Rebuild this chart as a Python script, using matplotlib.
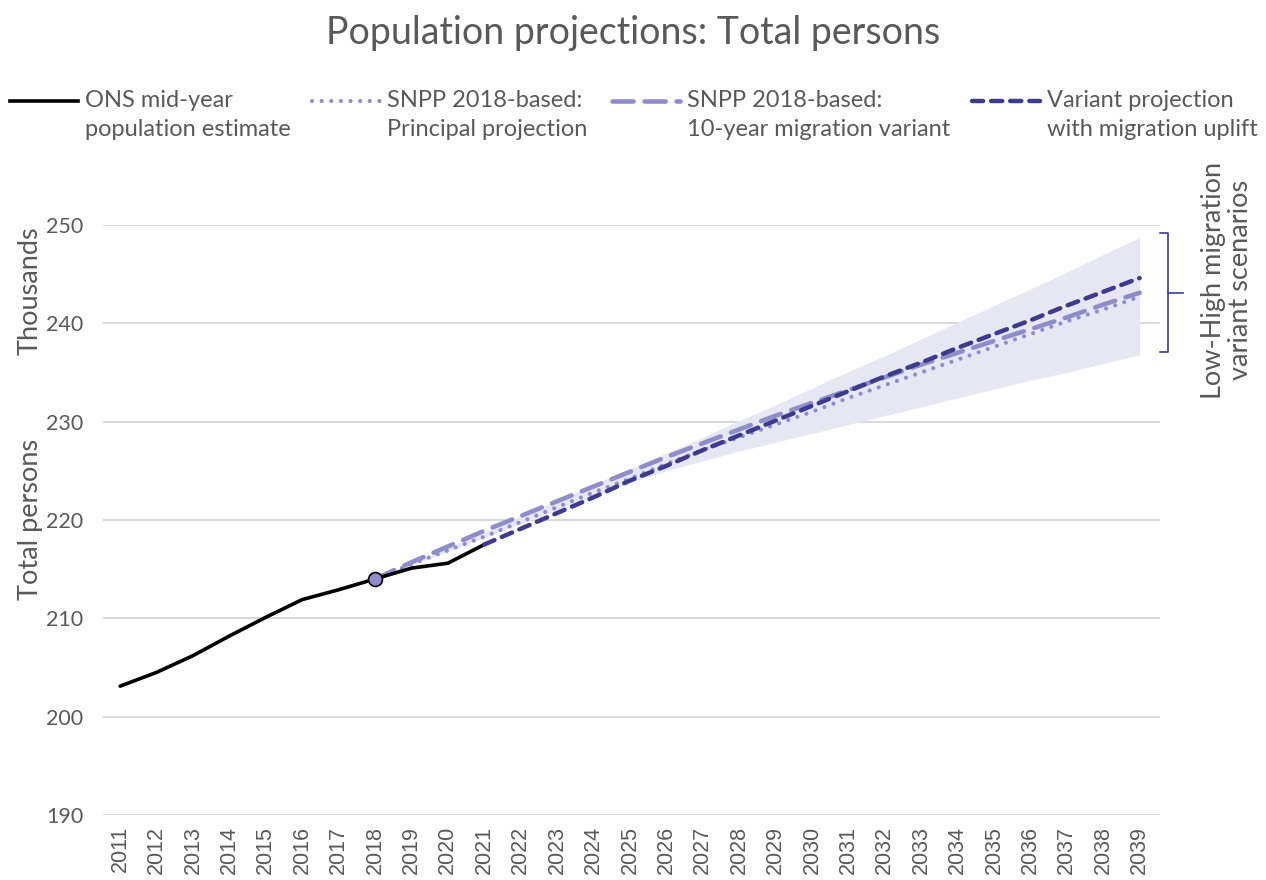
import matplotlib
matplotlib.use("Agg")
import matplotlib.pyplot as plt
from matplotlib.lines import Line2D

years = list(range(2011, 2040))
ons_years = list(range(2011, 2022))
ons = [203.1, 204.5, 206.2, 208.2, 210.1, 211.9, 212.9, 214.0, 215.1, 215.6, 217.5]

proj_years = list(range(2018, 2040))
principal = [214.0, 215.5, 216.9, 218.3, 219.8, 221.3, 222.8, 224.2, 225.7, 227.1, 228.4,
             229.7, 231.0, 232.4, 233.7, 235.0, 236.3, 237.6, 238.9, 240.2, 241.4, 242.7]
ten_year = [214.0, 215.7, 217.3, 218.9, 220.4, 221.9, 223.4, 224.9, 226.4, 227.8, 229.2,
            230.6, 231.9, 233.2, 234.5, 235.8, 237.0, 238.2, 239.4, 240.6, 241.9, 243.1]
band_high = [214.0, 215.6, 217.2, 218.8, 220.4, 222.0, 223.6, 225.2, 226.8, 228.4, 230.1,
             231.7, 233.4, 235.1, 236.7, 238.4, 240.1, 241.8, 243.5, 245.2, 247.0, 248.7]
band_low = [214.0, 215.4, 216.8, 218.2, 219.6, 221.0, 222.4, 223.8, 225.0, 226.0, 227.0,
            227.9, 228.8, 229.7, 230.6, 231.5, 232.4, 233.3, 234.2, 235.0, 235.9, 236.8]

var_years = list(range(2021, 2040))
variant = [217.5, 219.1, 220.7, 222.3, 224.0, 225.5, 227.1, 228.6, 230.1, 231.6, 233.1,
           234.6, 236.0, 237.5, 238.9, 240.3, 241.8, 243.2, 244.6]

labels = ["ONS mid-year\npopulation estimate",
          "SNPP 2018-based:\nPrincipal projection",
          "SNPP 2018-based:\n10-year migration variant",
          "Variant projection\nwith migration uplift"]

grey = "#595959"
light = "#8f8dc9"
dark = "#3e3a8c"
band_col = "#e7e7f3"

dot_ls = (0, (0.01, 2.3))
long_ls = (0, (4.6, 2.4))
short_ls = (0, (2.5, 1.8))

fig = plt.figure(figsize=(12.66, 8.8), dpi=100)
ax = fig.add_axes([0.0814, 0.0739, 0.8346, 0.6705])

ax.fill_between(proj_years, band_low, band_high, color=band_col, lw=0, zorder=1)
ax.plot(ons_years, ons, color="black", lw=2.6, solid_capstyle="round", zorder=4)
ax.plot(proj_years, principal, color=light, lw=3.0, linestyle=dot_ls,
        dash_capstyle="round", zorder=3)
ax.plot(proj_years, ten_year, color=light, lw=3.3, linestyle=long_ls,
        dash_capstyle="round", zorder=3)
ax.plot(var_years, variant, color=dark, lw=3.2, linestyle=short_ls,
        dash_capstyle="round", zorder=5)
ax.plot([2018], [ons[7]], "o", ms=10, mfc=light, mec="black", mew=1.2, zorder=6)

ax.set_xlim(2010.53, 2039.55)
ax.set_ylim(190, 250)
ax.set_xticks(years)
ax.set_xticklabels([str(y) for y in years], rotation=90, fontsize=15.5,
                   family="Liberation Sans", color=grey)
ax.set_yticks(range(190, 251, 10))
ax.set_yticklabels([str(v) for v in range(190, 251, 10)], fontsize=15.5,
                   family="Lato", color=grey)
ax.tick_params(axis="x", length=0, pad=8)
ax.tick_params(axis="y", length=0, pad=14)
ax.grid(axis="y", color="#d9d9d9", lw=1.5)
ax.set_axisbelow(True)
for s in ax.spines.values():
    s.set_visible(False)

fig.text(0.5, 0.962, "Population projections: Total persons", ha="center", va="center",
         fontsize=27, family="Lato", color=grey)

fig.text(0.024, 0.67, "Thousands", rotation=90, ha="center", va="center",
         fontsize=19.5, family="Lato", color=grey)
fig.text(0.024, 0.41, "Total persons", rotation=90, ha="center", va="center",
         fontsize=19.5, family="Lato", color=grey)

# legend drawn by hand so the handle sits on the first text line
handles = [dict(color="black", lw=2.6, ls="-"),
           dict(color=light, lw=3.0, ls=dot_ls, dash_capstyle="round"),
           dict(color=light, lw=3.3, ls=long_ls, dash_capstyle="round"),
           dict(color=dark, lw=3.2, ls=short_ls, dash_capstyle="round")]
starts = [10, 312, 612, 972]
for x0, lab, h in zip(starts, labels, handles):
    y = 1 - 101 / 880
    fig.add_artist(Line2D([x0 / 1266, (x0 + 68) / 1266], [y, y],
                          transform=fig.transFigure, **h))
    fig.text((x0 + 75) / 1266, 1 - 90 / 880, lab, ha="left", va="top",
             fontsize=17, family="Lato", color=grey, linespacing=1.45)

# bracket for the low-high band
bx = 1168 / 1266
top, mid, bot = 1 - 233 / 880, 1 - 293 / 880, 1 - 352 / 880
bk = dict(color=dark, lw=1.2, transform=fig.transFigure)
fig.add_artist(Line2D([1160 / 1266, bx, bx, 1183 / 1266], [top, top, mid, mid], **bk))
fig.add_artist(Line2D([1160 / 1266, bx, bx], [bot, bot, mid], **bk))
fig.text(1227 / 1266, 1 - 280 / 880, "Low-High migration\nvariant scenarios", rotation=90,
         ha="center", va="center", fontsize=19.5, family="Lato", color=grey,
         linespacing=1.05)

fig.savefig("out.png", dpi=100)
